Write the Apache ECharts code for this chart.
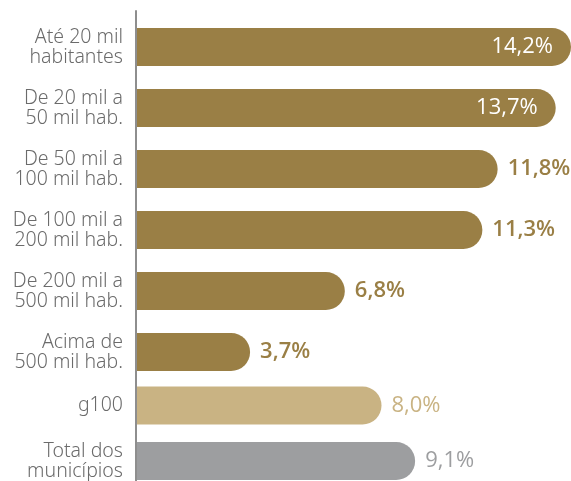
<!DOCTYPE html>
<html>
<head>
<meta charset="utf-8">
<script src="https://cdn.jsdelivr.net/npm/echarts@6/dist/echarts.min.js"></script>
<style>
  html, body { margin: 0; padding: 0; background: #fff; }
  #chart { width: 571px; height: 481px; }
</style>
</head>
<body>
<div id="chart"></div>
<script>
// dados
const categories = [
  'Até 20 mil\nhabitantes',
  'De 20 mil a\n50 mil hab.',
  'De 50 mil a\n100 mil hab.',
  'De 100 mil a\n200 mil hab.',
  'De 200 mil a\n500 mil hab.',
  'Acima de\n500 mil hab.',
  'g100',
  'Total dos\nmunicípios'
]
const values = [14.2, 13.7, 11.8, 11.3, 6.8, 3.7, 8.0, 9.1]

const GOLD = '#9a7f45'
const SAND = '#c9b383'
const GREY = '#9d9ea0'
const barColors = [GOLD, GOLD, GOLD, GOLD, GOLD, GOLD, SAND, GREY]
const labelInside = [true, true, false, false, false, false, false, false]

const SPLIT = 6 // faixas de porte / g100 + total
const xMax = 14.2
const catFont = "'Noto Sans', sans-serif"
const valFont = "'Open Sans', sans-serif"

const fmt = v => v.toFixed(1).replace('.', ',') + '%'

const makeData = (from, to) => values.slice(from, to).map((v, k) => {
  const i = from + k
  const inside = labelInside[i]
  return {
    value: v,
    itemStyle: { color: barColors[i], borderRadius: [0, 19, 19, 0] },
    label: {
      show: true,
      position: inside ? 'insideRight' : 'right',
      distance: inside ? 18 : 10,
      color: inside ? '#fff' : barColors[i],
      fontWeight: (i >= 2 && i < SPLIT) ? 600 : 'normal',
      fontFamily: valFont,
      fontSize: 22,
      formatter: p => fmt(p.value)
    }
  }
})

const catAxis = (gridIndex, cats) => ({
  type: 'category',
  gridIndex,
  inverse: true,
  data: cats,
  axisLine: { show: false },
  axisTick: { show: false },
  axisLabel: {
    margin: 14,
    color: '#6b6b6b',
    fontFamily: catFont,
    fontWeight: 300,
    fontSize: 19.5,
    lineHeight: 20,
    align: 'right'
  }
})

const valAxis = gridIndex => ({
  type: 'value',
  gridIndex,
  min: 0,
  max: xMax,
  show: false
})

const chart = echarts.init(document.getElementById('chart'), null, { renderer: 'canvas' })
chart.setOption({
  animation: false,
  backgroundColor: '#fff',
  grid: [
    { left: 137, right: 0, top: 16.5, height: 366, outerBoundsMode: 'none' },
    { left: 137, right: 0, top: 377.75, height: 111, outerBoundsMode: 'none' },
    { left: 136, right: 0, top: 11, bottom: 0, outerBoundsMode: 'none' }
  ],
  xAxis: [valAxis(0), valAxis(1), valAxis(2)],
  yAxis: [
    catAxis(0, categories.slice(0, SPLIT)),
    catAxis(1, categories.slice(SPLIT)),
    {
      type: 'value',
      gridIndex: 2,
      axisLine: { show: true, lineStyle: { color: '#8e8e8e', width: 2 } },
      axisTick: { show: false },
      axisLabel: { show: false },
      splitLine: { show: false }
    }
  ],
  series: [
    {
      type: 'bar',
      xAxisIndex: 0,
      yAxisIndex: 0,
      barWidth: 38,
      data: makeData(0, SPLIT)
    },
    {
      type: 'bar',
      xAxisIndex: 1,
      yAxisIndex: 1,
      barWidth: 38,
      data: makeData(SPLIT, values.length)
    }
  ]
})
</script>
</body>
</html>
